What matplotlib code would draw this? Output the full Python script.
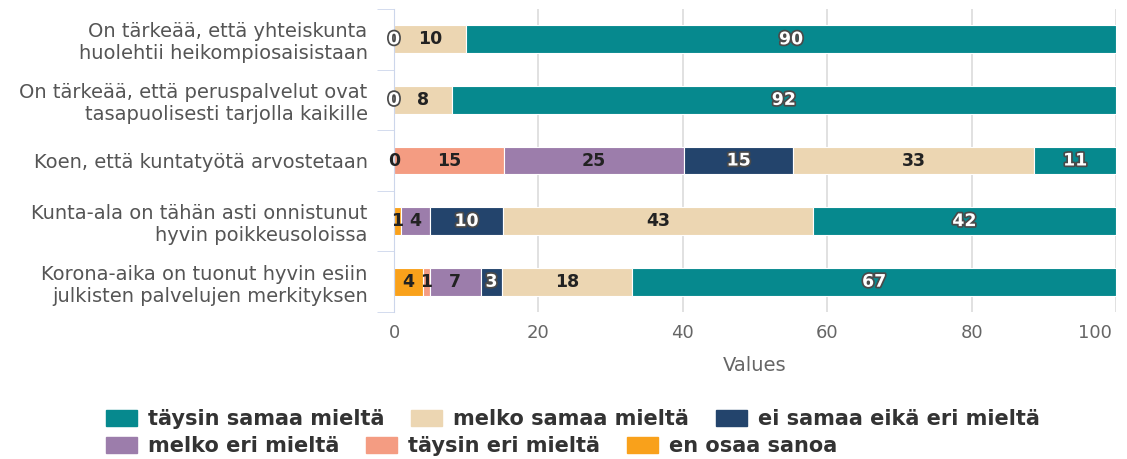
import numpy as np
import matplotlib.pyplot as plt
import matplotlib.transforms as mtransforms
from matplotlib.patches import Patch
import matplotlib.patheffects as pe

categories = [
    "On tärkeää, että yhteiskunta\nhuolehtii heikompiosaisistaan",
    "On tärkeää, että peruspalvelut ovat\ntasapuolisesti tarjolla kaikille",
    "Koen, että kuntatyötä arvostetaan",
    "Kunta-ala on tähän asti onnistunut\nhyvin poikkeusoloissa",
    "Korona-aika on tuonut hyvin esiin\njulkisten palvelujen merkityksen",
]

# stacked left to right; nan = no segment
en_osaa = [np.nan, np.nan, 0, 1.0, 4]
taysin_eri = [np.nan, np.nan, 15.2, np.nan, 1]
melko_eri = [np.nan, np.nan, 25.0, 4.0, 7]
ei_samaa = [0, 0, 15.1, 10.1, 3]
melko_samaa = [10, 8, 33.4, 42.9, 18]
taysin_samaa = [90, 92, 11.3, 42.0, 67]

series = [
    ("en osaa sanoa", en_osaa, "#f9a11b", "#222222"),
    ("täysin eri mieltä", taysin_eri, "#f49c82", "#222222"),
    ("melko eri mieltä", melko_eri, "#9c7dab", "#222222"),
    ("ei samaa eikä eri mieltä", ei_samaa, "#23446c", "white"),
    ("melko samaa mieltä", melko_samaa, "#ecd6b2", "#222222"),
    ("täysin samaa mieltä", taysin_samaa, "#06898e", "white"),
]

fig = plt.figure(figsize=(11.27, 4.59), dpi=100)
ax = fig.add_axes([394 / 1127, 1 - 312 / 459, 722 / 1127, 303 / 459])

y = np.arange(len(categories))
left = np.zeros(len(categories))
for name, vals, color, tcolor in series:
    v = np.array(vals, dtype=float)
    w = np.nan_to_num(v)
    bars = ax.barh(y, w, left=left, height=0.46, color=color,
                   edgecolor="white", linewidth=0.8)
    labels = ["" if np.isnan(x) else str(int(round(x))) for x in v]
    txts = ax.bar_label(bars, labels=labels, label_type="center",
                        color=tcolor, fontsize=12.5, fontweight="bold")
    if tcolor == "white":
        for t in txts:
            t.set_path_effects([pe.withStroke(linewidth=2.5, foreground="#4a4a4a")])
    left += w

ax.set_ylim(4.5, -0.5)
ax.set_xlim(0, 100)
ax.set_yticks(y)
ax.set_yticklabels(categories, fontsize=14, color="#555555")
ax.set_yticks(np.arange(-0.5, 5.0, 1.0), minor=True)
ax.tick_params(axis="y", which="major", length=0, pad=19)
ax.tick_params(axis="y", which="minor", length=12, color="#ccd6eb")
ax.set_xticks(np.arange(0, 101, 20))
ax.tick_params(axis="x", length=0, pad=9, labelsize=13, labelcolor="#666666")
last = ax.get_xticklabels()[-1]
last.set_horizontalalignment("right")
last.set_transform(last.get_transform() +
                   mtransforms.ScaledTranslation(-4 / 100, 0, fig.dpi_scale_trans))
ax.xaxis.grid(True, color="#dcdcdc", linewidth=1.2)
ax.set_axisbelow(True)
for s in ["top", "right", "bottom"]:
    ax.spines[s].set_visible(False)
ax.spines["left"].set_color("#ccd6eb")
ax.set_xlabel("Values", fontsize=14, color="#666666", labelpad=10)

order = ["täysin samaa mieltä", "melko samaa mieltä", "ei samaa eikä eri mieltä",
         "melko eri mieltä", "täysin eri mieltä", "en osaa sanoa"]
cmap = {s[0]: s[2] for s in series}

def row_legend(names, ypos):
    handles = [Patch(color=cmap[n], label=n) for n in names]
    leg = fig.legend(handles=handles, loc="center left", bbox_to_anchor=(106 / 1127, ypos),
                     ncol=3, frameon=False, handlelength=1.5, handleheight=0.8,
                     handletextpad=0.5, columnspacing=1.3, borderaxespad=0, borderpad=0,
                     prop={"weight": "bold", "size": 15})
    for t in leg.get_texts():
        t.set_color("#333333")
    return leg

row_legend(order[:3], 1 - 419 / 459)
row_legend(order[3:], 1 - 446 / 459)

fig.savefig("out.png", dpi=100)
